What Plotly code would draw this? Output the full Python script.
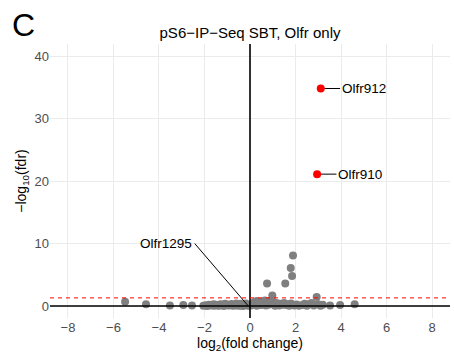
import plotly.graph_objects as go

# ---- data (log2 fold change, -log10 fdr) ----
gray_x = [-5.49, -4.57, -3.52, -2.93, -2.55,
          -2.05, -1.95, -1.88, -1.80, -1.72, -1.65, -1.58, -1.50, -1.43, -1.36, -1.30, -1.22,
          -1.15, -1.08, -1.02, -0.95, -0.88, -0.82, -0.75, -0.70, -0.62, -0.55, -0.48, -0.42,
          -0.35, -0.30, -0.24, -0.18, -0.12, -0.07, -1.60, -1.10, -0.60, -0.40, -0.20,
          0.05, 0.12, 0.18, 0.25, 0.30, 0.38, 0.45, 0.50, 0.58, 0.65, 0.72, 0.80, 0.85, 0.92,
          1.05, 1.12, 1.20, 1.28, 1.35, 1.42, 1.50, 1.58, 1.65, 1.72, 1.80, 1.88, 1.95, 2.05,
          2.15, 0.30, 0.50, 0.70, 0.90, 1.10, 1.30, 0.40, 0.60, 0.80,
          0.98, 0.75, 1.55, 1.85, 1.79, 1.89,
          2.30, 2.40, 2.50, 2.60, 2.70, 2.80, 2.93, 3.00, 3.10, 3.20, 3.52, 3.96, 4.60]
gray_y = [0.70, 0.30, 0.10, 0.15, 0.10,
          0.05, 0.12, 0.02, 0.20, 0.08, 0.15, 0.03, 0.22, 0.10, 0.05, 0.30, 0.12,
          0.02, 0.18, 0.25, 0.07, 0.14, 0.33, 0.04, 0.21, 0.10, 0.28, 0.06, 0.35,
          0.15, 0.02, 0.25, 0.40, 0.12, 0.05, 0.30, 0.35, 0.40, 0.10, 0.30,
          0.10, 0.35, 0.60, 0.20, 0.80, 0.45, 0.15, 0.70, 0.30, 0.90, 0.55, 0.20, 0.75, 0.40,
          0.60, 0.25, 0.45, 0.10, 0.35, 0.20, 0.50, 0.15, 0.30, 0.05, 0.40, 0.20, 0.10, 0.25,
          0.05, 0.05, 0.20, 0.10, 0.30, 0.05, 0.20, 0.55, 0.40, 0.60,
          1.70, 3.60, 3.60, 4.80, 6.10, 8.10,
          0.15, 0.35, 0.05, 0.30, 0.50, 0.10, 1.45, 0.30, 0.05, 0.20, 0.10, 0.15, 0.30]

sig_genes = ["Olfr912", "Olfr910"]
sig_x = [3.11, 2.95]
sig_y = [34.8, 21.1]

label_gene = "Olfr1295"
label_gene_x = -0.08
label_gene_y = 0.02

fdr_threshold = 1.30  # -log10(0.05)

x_ticks = [-8, -6, -4, -2, 0, 2, 4, 6, 8]
y_ticks = [0, 10, 20, 30, 40]

FONT = "Liberation Sans, Arial, sans-serif"

fig = go.Figure()

fig.add_trace(go.Scatter(x=gray_x, y=gray_y, mode="markers",
                         marker=dict(color="#7F7F7F", size=8, line=dict(width=0)),
                         showlegend=False, hoverinfo="skip"))

# connector lines for labels (drawn under the red points)
label_offsets = [(0.85, 0.0), (0.85, 0.0)]
for gx, gy, (dx, dy) in zip(sig_x, sig_y, label_offsets):
    fig.add_trace(go.Scatter(x=[gx, gx + dx], y=[gy, gy + dy], mode="lines",
                             line=dict(color="black", width=1), showlegend=False,
                             hoverinfo="skip"))
# Olfr1295 connector
lab1295 = (-2.43, 10.0)
fig.add_trace(go.Scatter(x=[label_gene_x, lab1295[0]], y=[label_gene_y, lab1295[1]],
                         mode="lines", line=dict(color="black", width=1),
                         showlegend=False, hoverinfo="skip"))

fig.add_trace(go.Scatter(x=sig_x, y=sig_y, mode="markers",
                         marker=dict(color="#FF0000", size=8, line=dict(width=0)),
                         showlegend=False, hoverinfo="skip"))

for g, gx, gy, (dx, dy) in zip(sig_genes, sig_x, sig_y, label_offsets):
    fig.add_annotation(x=gx + dx, y=gy + dy, text=g, showarrow=False,
                       xanchor="left", yanchor="middle", xshift=0,
                       font=dict(family=FONT, size=13.5, color="black"))
fig.add_annotation(x=lab1295[0], y=lab1295[1], text=label_gene, showarrow=False,
                   xanchor="right", yanchor="middle", xshift=-1,
                   font=dict(family=FONT, size=13.5, color="black"))

# reference lines
fig.add_shape(type="line", xref="x", yref="paper", x0=0, x1=0, y0=0, y1=1,
              line=dict(color="black", width=1.6), layer="above")
fig.add_shape(type="line", xref="paper", yref="y", x0=0, x1=1, y0=0, y1=0,
              line=dict(color="black", width=1.6), layer="above")
fig.add_shape(type="line", xref="paper", yref="y", x0=0, x1=1,
              y0=fdr_threshold, y1=fdr_threshold,
              line=dict(color="#FF0000", width=1, dash="4px,4px"), layer="above")

# panel letter
fig.add_annotation(xref="paper", yref="paper", x=-0.1, y=1.0, yshift=19, text="C",
                   showarrow=False, xanchor="left", yanchor="middle",
                   font=dict(family=FONT, size=32, color="black"))

fig.update_layout(
    width=454, height=354,
    margin=dict(l=50, r=4, t=44, b=36),
    paper_bgcolor="white", plot_bgcolor="white",
    title=dict(text="pS6\u2212IP\u2212Seq SBT, Olfr only", x=0.5 * (50 + 450) / 454,
               xanchor="center", y=1 - 33 / 354, yanchor="middle",
               font=dict(family=FONT, size=15, color="black")),
    xaxis=dict(range=[-8.79, 8.79], tickvals=x_ticks, ticks="",
               showgrid=True, gridcolor="#EBEBEB", gridwidth=1, zeroline=False,
               showline=False,
               tickfont=dict(family=FONT, size=13, color="#4D4D4D"),
               title=dict(text="log<sub>2</sub>(fold change)", standoff=2,
                          font=dict(family=FONT, size=14, color="black"))),
    yaxis=dict(range=[-1.92, 41.92], tickvals=y_ticks, ticks="",
               showgrid=True, gridcolor="#EBEBEB", gridwidth=1, zeroline=False,
               showline=False,
               tickfont=dict(family=FONT, size=13, color="#4D4D4D"),
               title=dict(text="\u2212log<sub>10</sub>(fdr)", standoff=4,
                          font=dict(family=FONT, size=14, color="black"))),
)

fig.write_html("out.html")
